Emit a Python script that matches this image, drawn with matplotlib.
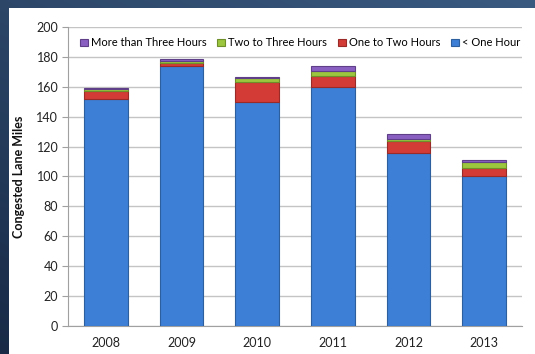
import matplotlib
matplotlib.use("Agg")
import matplotlib.pyplot as plt
import numpy as np
from matplotlib.patches import Rectangle

years = ["2008", "2009", "2010", "2011", "2012", "2013"]
lt_one = [152, 174, 150, 160, 116, 100]
one_two = [5, 2, 13, 7.5, 8, 5.5]
two_three = [1.5, 1.5, 3, 3, 1, 4.5]
more_three = [1, 1, 0.5, 3.5, 3.5, 1]

series_names = ["< One Hour", "One to Two Hours", "Two to Three Hours", "More than Three Hours"]
colors = ["#3d7fd6", "#d23b36", "#9cc63d", "#8a5fc2"]
edges = ["#2d5f9e", "#9a2a27", "#6f8f2b", "#5f4088"]

plt.rcParams['font.family'] = ['Lato', 'DejaVu Sans']

fig = plt.figure(figsize=(5.35, 3.54), dpi=100)
W, H = 535, 354

# background gradient
bg = fig.add_axes([0, 0, 1, 1])
bg.set_axis_off()
gx = np.linspace(0, 1, 200)
gy = np.linspace(0, 1, 200)
X, Y = np.meshgrid(gx, gy)
t = 0.6 * Y + 0.4 * X
c0 = np.array([0x18, 0x2a, 0x46]) / 255
c1 = np.array([0x3a, 0x5a, 0x80]) / 255
img = c0[None, None, :] * (1 - t[..., None]) + c1[None, None, :] * t[..., None]
bg.imshow(img, extent=[0, 1, 0, 1], origin='lower', aspect='auto')
bg.add_patch(Rectangle((9 / W, 0), 1 - 9 / W, 1 - 8 / H, facecolor='white', edgecolor='none'))
bg.set_xlim(0, 1)
bg.set_ylim(0, 1)

ax = fig.add_axes([68 / W, (H - 326) / H, (522 - 68) / W, (326 - 27) / H])
ax.set_facecolor('none')

x = np.arange(len(years))
data = [lt_one, one_two, two_three, more_three]
bottom = np.zeros(len(years))
handles = []
for vals, name, c, e in zip(data, series_names, colors, edges):
    b = ax.bar(x, vals, 0.58, bottom=bottom, color=c, edgecolor=e, linewidth=0.8, label=name, zorder=3)
    handles.append(b)
    bottom = bottom + np.array(vals)

ax.set_xlim(-0.5, len(years) - 0.5)
ax.set_ylim(0, 200)
ax.set_yticks(range(0, 201, 20))
ax.set_xticks(x)
ax.set_xticklabels(years)
ax.yaxis.grid(True, color='#c4c4c4', linewidth=1, zorder=0)
ax.set_axisbelow(True)
for s in ['top', 'right']:
    ax.spines[s].set_visible(False)
ax.spines['left'].set_color('#a0a0a0')
ax.spines['bottom'].set_color('#a0a0a0')
ax.tick_params(axis='y', length=4, color='#a0a0a0', labelsize=9, labelcolor='#222222', pad=3)
ax.tick_params(axis='x', length=0, labelsize=9, labelcolor='#222222', pad=8)
ax.set_ylabel("Congested Lane Miles", fontsize=9, fontweight='bold', color='#111111', labelpad=8)

leg = ax.legend(handles[::-1], series_names[::-1], ncol=4, loc='center', bbox_to_anchor=(0.511, 1 - 16 / 299),
                frameon=True, facecolor='white', edgecolor='none', framealpha=1,
                fontsize=8, handlelength=0.7, handleheight=0.7, handletextpad=0.25, columnspacing=1.0,
                borderpad=0.2)
leg.set_zorder(5)

fig.savefig("out.png", dpi=100)
